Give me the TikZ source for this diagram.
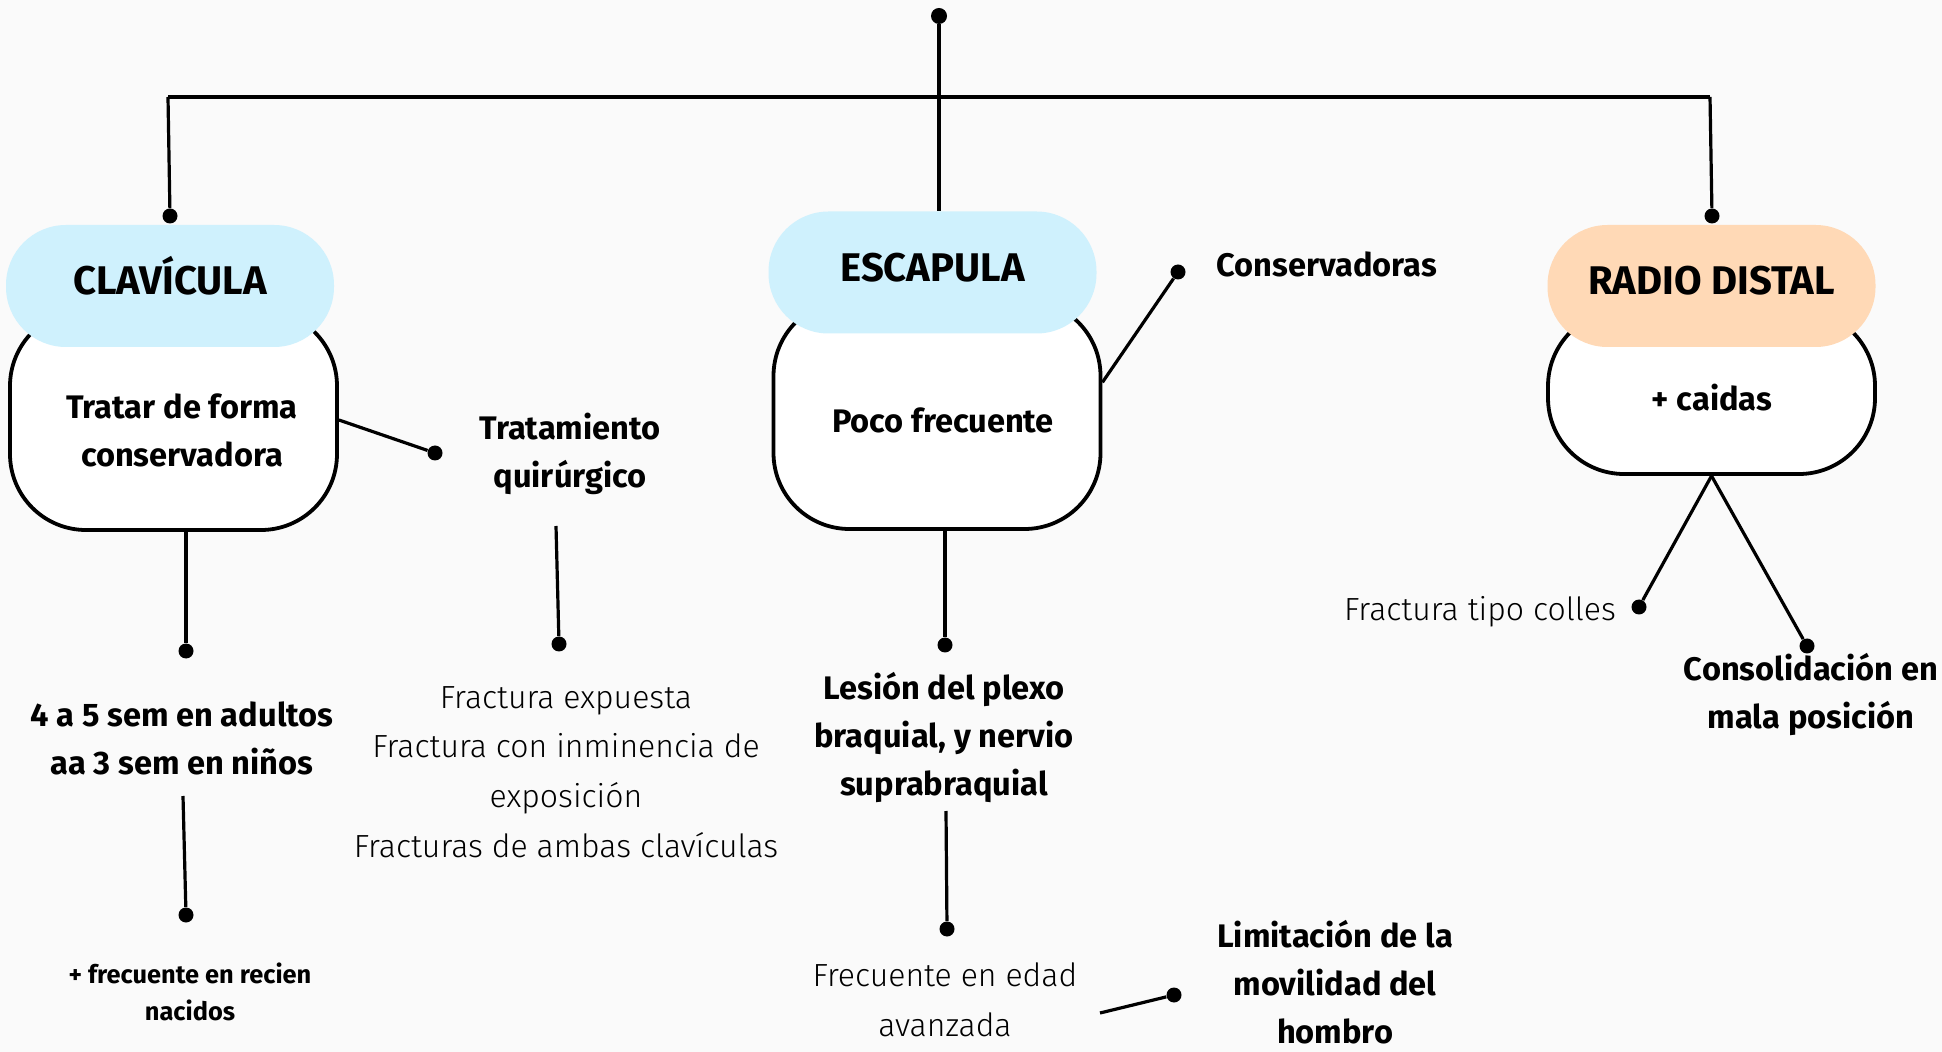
\documentclass[tikz,border=0pt]{standalone}
\usepackage{fontspec}
\setmainfont{Fira Sans}
\newfontfamily\thinf{Fira Sans Light}
\definecolor{bgc}{HTML}{FAFAFA}
\definecolor{hblue}{HTML}{CFF1FD}
\definecolor{hpeach}{HTML}{FFD9B6}
\begin{document}
\begin{tikzpicture}[x=0.5pt,y=-0.5pt,
  ln/.style={line width=1.6pt, black},
  dot/.style={circle, fill=black, inner sep=0pt, minimum size=7.5pt},
  wbox/.style={draw=black, line width=1.9pt, fill=white, rounded corners=38pt, minimum width=163.5pt, inner sep=0pt},
  hdr/.style={rounded corners=30pt, minimum width=164pt, minimum height=61pt, inner sep=0pt, text height=9pt, text depth=0pt, font=\bfseries\fontsize{20}{24}\selectfont},
  bt/.style={align=center, font=\bfseries\fontsize{16.3}{24}\selectfont, inner sep=0pt},
  tt/.style={align=center, font=\thinf\fontsize{16}{24.8}\selectfont, inner sep=0pt},
  st/.style={align=center, font=\bfseries\fontsize{12.7}{18.5}\selectfont, inner sep=0pt}
]
\fill[bgc] (0,0) rectangle (1942,1052);
\useasboundingbox (0,0) rectangle (1942,1052);

% boxes
\node[wbox, minimum height=110pt] (clavb) at (173.5,420) {};
\node[hdr, fill=hblue] (clavh) at (170,286) {CLAVÍCULA};
\node[wbox, minimum height=114.5pt] (escb) at (937,414.5) {};
\node[hdr, fill=hblue] (esch) at (932.5,272.5) {ESCAPULA};
\node[wbox, minimum height=82pt] (radb) at (1711.5,392) {};
\node[hdr, fill=hpeach] (radh) at (1711.5,286) {RADIO DISTAL};

% box texts
\node[bt] (clavt) at (182,430) {Tratar de forma\\conservadora};
\node[bt] (esct) at (943,420) {Poco frecuente};
\node[bt] (radt) at (1712,398) {+ caidas};

% dots
\node[dot, minimum size=8pt] (top) at (939,16) {};
\node[dot] (dL) at (170,216) {};
\node[dot] (dR) at (1712,216) {};
\node[dot] (d1) at (435,453) {};
\node[dot] (d2) at (186,651) {};
\node[dot] (d3) at (186,915) {};
\node[dot] (d4) at (559,644) {};
\node[dot] (d5) at (1178,272) {};
\node[dot] (d6) at (945,645) {};
\node[dot] (d7) at (947,929) {};
\node[dot] (d8) at (1174,995) {};
\node[dot] (d9) at (1639,607) {};
\node[dot] (d10) at (1807,646) {};

% junction coordinates
\coordinate (jL) at (168,97);
\coordinate (jR) at (1710,97);
\coordinate (s3) at (183,796);
\coordinate (s4) at (556,526);
\coordinate (s7) at (946,811);
\coordinate (s8) at (1100,1013);

% texts
\node[bt] (trq) at (570,454) {Tratamiento\\quirúrgico};
\node[tt] (frl) at (566,772) {Fractura expuesta\\Fractura con inminencia de\\exposición\\Fracturas de ambas clavículas};
\node[bt] (sem) at (182,738) {4 a 5 sem en adultos\\aa 3 sem en niños};
\node[st] (fre) at (190,992) {+ frecuente en recien\\nacidos};
\node[bt, anchor=west] (cons) at (1216,264) {Conservadoras};
\node[bt] (les) at (944,738) {Lesión del plexo\\braquial, y nervio\\suprabraquial};
\node[tt] (eda) at (945,1000) {Frecuente en edad\\avanzada};
\node[bt] (lim) at (1335,982) {Limitación de la\\movilidad del\\hombro};
\node[tt] (col) at (1480,612) {Fractura tipo colles};
\node[bt] (mal) at (1811,695) {Consolidación en\\mala posición};

% connectors
\draw[ln] (top) -- (top |- esch.north);
\draw[ln] (jL) -- (jR);
\draw[ln] (jL) -- (dL);
\draw[ln] (jR) -- (dR);
\draw[ln] (clavb.east) -- (d1);
\draw[ln] (clavb.south -| d2) -- (d2);
\draw[ln] (s3) -- (d3);
\draw[ln] (s4) -- (d4);
\draw[ln] (escb.11) -- (d5);
\draw[ln] (escb.south -| d6) -- (d6);
\draw[ln] (s7) -- (d7);
\draw[ln] (s8) -- (d8);
\draw[ln] (radb.south) -- (d9);
\draw[ln] (radb.south) -- (d10);
\end{tikzpicture}
\end{document}
